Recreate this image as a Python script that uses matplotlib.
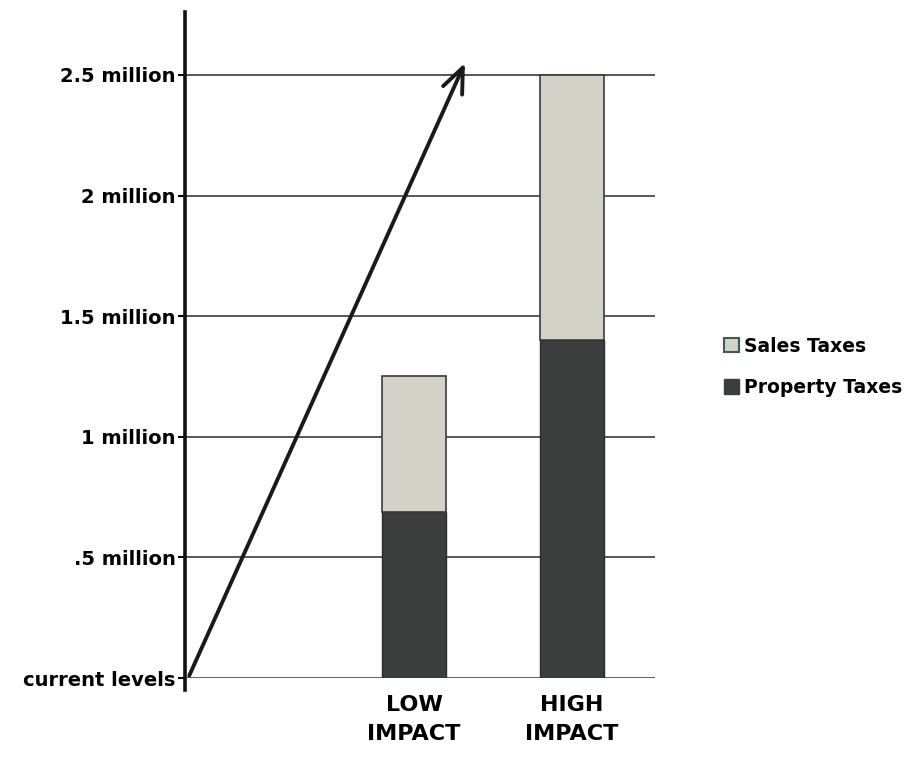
import numpy as np
import matplotlib.pyplot as plt
from matplotlib.patches import Patch

# tax revenue increase, millions of dollars
categories = ['LOW\nIMPACT', 'HIGH\nIMPACT']
property_taxes = [0.69, 1.40]
sales_taxes = [0.56, 1.10]
tick_values = [0, 0.5, 1, 1.5, 2, 2.5]
tick_labels = ['current levels', '.5 million', '1 million', '1.5 million', '2 million', '2.5 million']

dark = '#3b3e3d'
light = '#d2d2c8'

fig = plt.figure(figsize=(9.12, 7.61), dpi=100)
ax = fig.add_axes([0.203, 0.109, 0.515, 0.875])

x = np.array([1, 2])
ax.bar(x, property_taxes, width=0.41, color=dark, edgecolor='#2a2c2b', linewidth=1, zorder=3)
ax.bar(x, sales_taxes, width=0.41, bottom=property_taxes, color=light,
       edgecolor='#3a3a3a', linewidth=1.2, zorder=3)

for v in tick_values[1:]:
    ax.axhline(v, color='#4a4a4a', linewidth=1.3, zorder=1)
ax.axhline(0, color='#555555', linewidth=1.3, zorder=1)

# growth arrow from current levels up to the top gridline
ax.annotate('', xy=(1.33, 2.56), xytext=(-0.43, 0.0),
            arrowprops=dict(arrowstyle='->,head_length=1.8,head_width=0.75',
                            color='#1a1a1a', lw=2.8), zorder=4)

ax.set_xlim(-0.449, 2.525)
ax.set_ylim(0, 2.76)
ax.set_yticks(tick_values)
ax.set_yticklabels(tick_labels, fontsize=14, fontweight='heavy', color='#000000')
ax.tick_params(axis='y', length=5, width=1.5, pad=2)
ax.set_xticks(x)
ax.set_xticklabels(categories, fontsize=16, fontweight='bold', color='#000000',
                   linespacing=1.6)
ax.tick_params(axis='x', length=0, pad=12)

for s in ['top', 'right', 'bottom']:
    ax.spines[s].set_visible(False)
ax.spines['left'].set_linewidth(2.6)
ax.spines['left'].set_color('#111111')
ax.spines['left'].set_bounds(-0.05, 2.76)

handles = [Patch(facecolor=light, edgecolor='#3e5a5a', linewidth=1.5, label='Sales Taxes'),
           Patch(facecolor=dark, edgecolor=dark, label='Property Taxes')]
fig.legend(handles=handles, loc='center left', bbox_to_anchor=(0.775, 0.518),
           frameon=False, prop={'weight': 'bold', 'size': 13.5},
           handlelength=0.8, handleheight=0.8, handletextpad=0.3, labelspacing=1.2)

fig.savefig('out.png', dpi=100)
